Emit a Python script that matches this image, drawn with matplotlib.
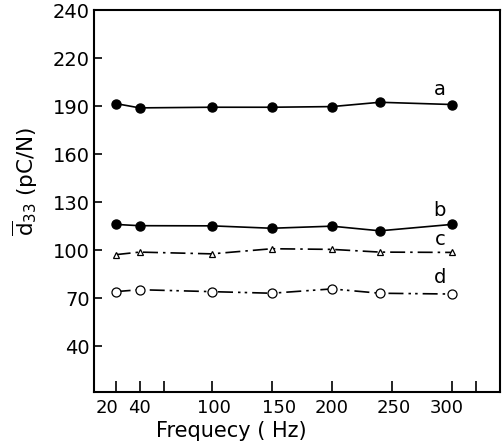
import matplotlib
matplotlib.use("Agg")
import matplotlib.pyplot as plt
import matplotlib.transforms as mtransforms

plt.rcParams['font.family'] = ['DejaVu Sans']
plt.rcParams['mathtext.fontset'] = 'dejavusans'

# Frequency of each measurement (Hz)
freq = [20, 40, 100, 150, 200, 240, 300]

# Piezoelectric coefficient d33 (pC/N) for the four samples
d33_a = [191.6, 188.9, 189.3, 189.3, 189.7, 192.4, 191.0]
d33_b = [116.1, 115.3, 115.2, 113.7, 115.0, 112.1, 116.1]
d33_c = [97.2, 98.8, 97.7, 100.9, 100.5, 98.8, 98.6]
d33_d = [74.1, 75.3, 74.1, 73.1, 75.8, 73.1, 72.6]

series_names = ['a', 'b', 'c', 'd']

# Axis ticks and their printed labels
xtick_major = [20, 40, 100, 150, 200, 250, 300]
xtick_minor = [60, 320]
ytick_pos = [40, 70, 100, 130, 160, 190, 220, 250]
ytick_labels = ['40', '70', '100', '130', '160', '190', '220', '240']

fig = plt.figure(figsize=(5.04, 4.48), dpi=100)
ax = fig.add_axes([0.1865, 0.125, 0.8055, 0.8525])

lw = 1.2
ax.plot(freq, d33_a, '-', color='black', lw=lw, marker='o', ms=6.5,
        mfc='black', mec='black')
ax.plot(freq, d33_b, '-', color='black', lw=lw, marker='o', ms=6.5,
        mfc='black', mec='black')
ax.plot(freq, d33_c, color='black', lw=lw, ls=(0, (9, 3, 1.5, 3)),
        marker='^', ms=5, mfc='white', mec='black', mew=0.9)
ax.plot(freq, d33_d, color='black', lw=lw, ls=(0, (9, 3, 1.5, 2.5, 1.5, 3)),
        marker='o', ms=6.5, mfc='white', mec='black', mew=0.9)

# Curve labels near the right end of each curve
label_y = [200.5, 125, 106.5, 83]
for name, yv in zip(series_names, label_y):
    ax.text(290, yv, name, fontsize=14, ha='center', va='center')

ax.set_xlim(2, 340)
ax.set_ylim(11.4, 250)

ax.set_xticks(xtick_major)
ax.set_xticklabels([str(v) for v in xtick_major], fontsize=13)
ax.set_xticks(xtick_minor, minor=True)
ax.set_yticks(ytick_pos)
ax.set_yticklabels(ytick_labels, fontsize=14)

ax.tick_params(axis='both', which='both', direction='in', width=1.2)
ax.tick_params(axis='x', which='both', length=8, pad=5)
ax.tick_params(axis='y', length=6, pad=3)

# Hand-set typeset offsets of the frequency labels (pixels)
x_label_shift = [-9, 0, 2, 7, 0, 2, -5]
for lab, dx in zip(ax.get_xticklabels(), x_label_shift):
    lab.set_transform(lab.get_transform() +
                      mtransforms.ScaledTranslation(dx / 100, 0, fig.dpi_scale_trans))

for sp in ax.spines.values():
    sp.set_linewidth(1.5)

ax.set_xlabel('Frequecy ( Hz)', fontsize=15)
ax.xaxis.set_label_coords(0.339, -0.076)
ax.set_ylabel(r'$\overline{\mathrm{d}}_{33}$ (pC/N)', fontsize=15.5)
ax.yaxis.set_label_coords(-0.133, 0.552)

fig.savefig('out.png', dpi=100)
